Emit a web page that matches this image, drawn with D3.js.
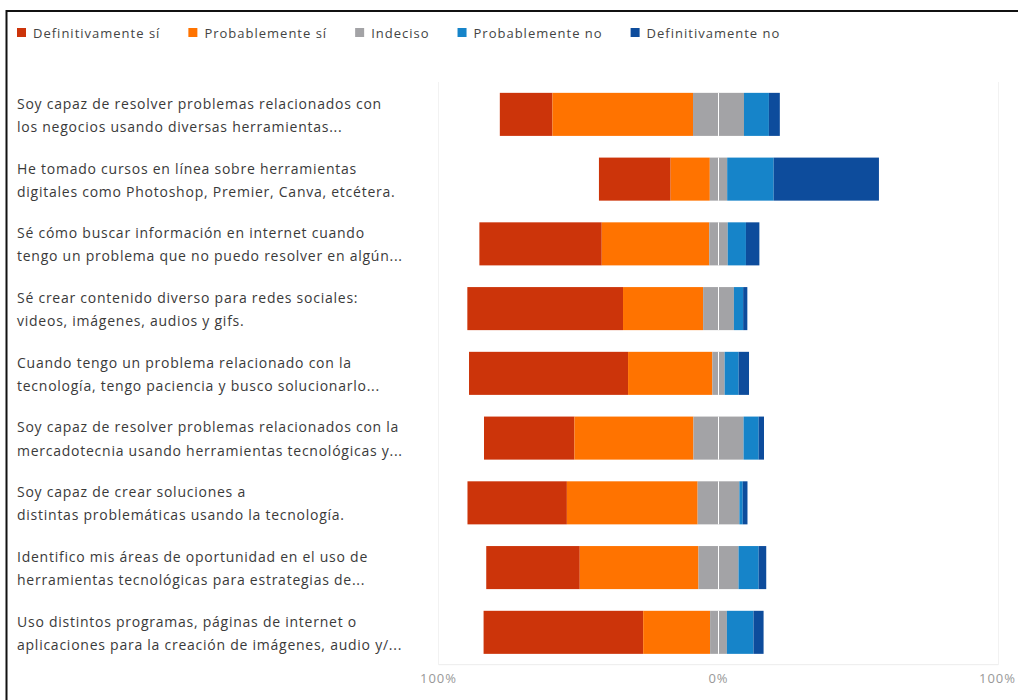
<!DOCTYPE html>
<html>
<head>
<meta charset="utf-8">
<script src="https://cdn.jsdelivr.net/npm/d3@7"></script>
<style>
  html, body { margin: 0; padding: 0; background: #fff; }
  svg { display: block; font-family: "Open Sans", "Noto Sans", sans-serif; }
</style>
</head>
<body>
<div id="chart"></div>
<script>
// statements, two lines each as shown in the chart
const categories = [
  ['Soy capaz de resolver problemas relacionados con', 'los negocios usando diversas herramientas...'],
  ['He tomado cursos en línea sobre herramientas', 'digitales como Photoshop, Premier, Canva, etcétera.'],
  ['Sé cómo buscar información en internet cuando', 'tengo un problema que no puedo resolver en algún...'],
  ['Sé crear contenido diverso para redes sociales:', 'videos, imágenes, audios y gifs.'],
  ['Cuando tengo un problema relacionado con la', 'tecnología, tengo paciencia y busco solucionarlo...'],
  ['Soy capaz de resolver problemas relacionados con la', 'mercadotecnia usando herramientas tecnológicas y...'],
  ['Soy capaz de crear soluciones a', 'distintas problemáticas usando la tecnología.'],
  ['Identifico mis áreas de oportunidad en el uso de', 'herramientas tecnológicas para estrategias de...'],
  ['Uso distintos programas, páginas de internet o', 'aplicaciones para la creación de imágenes, audio y/...']
];

const seriesNames = ['Definitivamente sí', 'Probablemente sí', 'Indeciso', 'Probablemente no', 'Definitivamente no'];
const seriesColors = ['#cc340a', '#ff7300', '#a3a3a6', '#1684c9', '#0d4c9c'];

// percentages per statement
const definitivamenteSi = [18.8, 25.6, 43.7, 55.6, 56.8, 32.3, 35.5, 33.4, 57.0];
const probablementeSi   = [50.2, 14.0, 38.4, 28.6, 30.1, 42.5, 46.7, 42.4, 23.9];
const indeciso          = [18.2,  6.2,  6.6, 11.0,  4.4, 17.9, 14.9, 14.3,  6.0];
const probablementeNo   = [ 8.9, 16.6,  6.5,  3.3,  5.0,  5.4,  1.2,  7.2,  9.5];
const definitivamenteNo = [ 3.9, 37.6,  4.8,  1.5,  3.7,  1.9,  1.7,  2.7,  3.6];

const tickValues = [-100, 0, 100];
const tickLabels = ['100%', '0%', '100%'];

const width = 1018;
const height = 700;

const svg = d3.select('#chart').append('svg')
  .attr('width', width)
  .attr('height', height);

// frame
svg.append('rect')
  .attr('x', 6.5).attr('y', 11)
  .attr('width', width + 20).attr('height', height + 20)
  .attr('fill', 'none')
  .attr('stroke', '#111')
  .attr('stroke-width', 2);

const x = d3.scaleLinear().domain([-100, 100]).range([438.5, 998.5]);
const y = d3.scaleBand()
  .domain(d3.range(categories.length))
  .range([82, 664.7])
  .paddingInner(0.335)
  .paddingOuter(0.1675);

// faint gridlines
svg.append('g')
  .selectAll('line')
  .data([-100, 100])
  .join('line')
  .attr('x1', (d) => x(d)).attr('x2', (d) => x(d))
  .attr('y1', 82).attr('y2', 664.7)
  .attr('stroke', '#f2f2f2');

svg.append('line')
  .attr('x1', x(-100)).attr('x2', x(100))
  .attr('y1', 664.7).attr('y2', 664.7)
  .attr('stroke', '#ececec');

// build segments: gray split in two halves around 0
const rows = categories.map((c, i) => {
  const vals = [definitivamenteSi[i], probablementeSi[i], indeciso[i], probablementeNo[i], definitivamenteNo[i]];
  let start = -(vals[0] + vals[1] + vals[2] / 2);
  const segs = [];
  vals.forEach((v, k) => {
    if (k === 2) {
      segs.push({ row: i, k, x0: start, x1: start + v / 2 });
      segs.push({ row: i, k, x0: start + v / 2, x1: start + v });
    } else {
      segs.push({ row: i, k, x0: start, x1: start + v });
    }
    start += v;
  });
  return segs;
});

svg.append('g')
  .selectAll('rect')
  .data(rows.flat())
  .join('rect')
  .attr('x', (d) => x(d.x0))
  .attr('y', (d) => y(d.row))
  .attr('width', (d) => x(d.x1) - x(d.x0))
  .attr('height', y.bandwidth())
  .attr('fill', (d) => seriesColors[d.k]);

// center line
svg.append('g')
  .selectAll('line')
  .data(d3.range(categories.length))
  .join('line')
  .attr('x1', x(0)).attr('x2', x(0))
  .attr('y1', (d) => y(d)).attr('y2', (d) => y(d) + y.bandwidth())
  .attr('stroke', '#fff')
  .attr('stroke-width', 1);

// category labels
const labels = svg.append('g')
  .selectAll('text')
  .data(categories)
  .join('text')
  .attr('x', 17)
  .attr('y', (d, i) => y(i) + y.bandwidth() / 2)
  .attr('font-size', 14)
  .attr('letter-spacing', 0.75)
  .attr('fill', '#3a3a3a');

labels.selectAll('tspan')
  .data((d) => d)
  .join('tspan')
  .attr('x', 17)
  .attr('dy', (d, j) => (j === 0 ? '-0.4em' : '1.65em'))
  .text((d) => d);

// axis labels
svg.append('g')
  .selectAll('text')
  .data(tickValues)
  .join('text')
  .attr('x', (d) => x(d) - (d === 100 ? 1 : 0))
  .attr('y', 683)
  .attr('text-anchor', 'middle')
  .attr('font-size', 13)
  .attr('letter-spacing', 1)
  .attr('fill', '#999')
  .text((d, i) => tickLabels[i]);

// legend
const legend = svg.append('g').attr('transform', 'translate(17,33)');
let lx = 0;
seriesNames.forEach((name, k) => {
  const g = legend.append('g').attr('transform', `translate(${lx},0)`);
  g.append('rect')
    .attr('x', 0).attr('y', -5)
    .attr('width', 9).attr('height', 9)
    .attr('fill', seriesColors[k]);
  const t = g.append('text')
    .attr('x', 16).attr('y', 0)
    .attr('dy', '0.35em')
    .attr('font-size', 13)
    .attr('letter-spacing', 1)
    .attr('fill', '#444')
    .text(name);
  lx += 16 + t.node().getComputedTextLength() + 28;
});
</script>
</body>
</html>
